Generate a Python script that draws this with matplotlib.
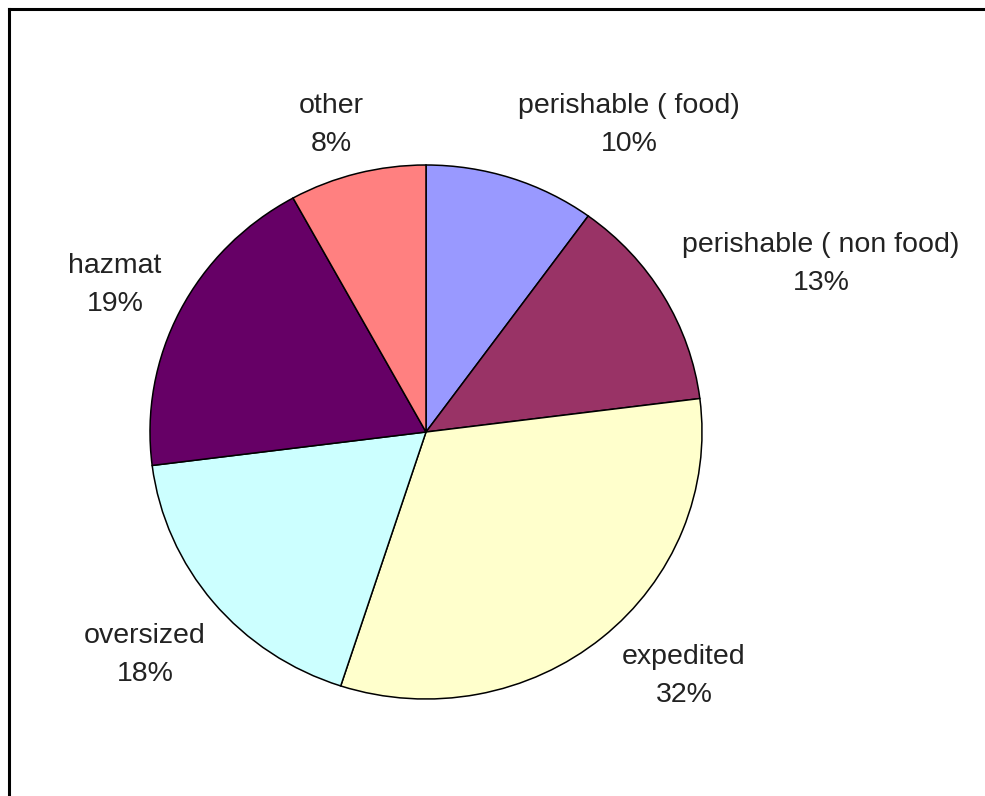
import matplotlib.pyplot as plt
from matplotlib.lines import Line2D

plt.rcParams["font.family"] = ["Liberation Sans", "DejaVu Sans"]

categories = ["perishable ( food)", "perishable ( non food)", "expedited",
              "oversized", "hazmat", "other"]
shares = [10, 13, 32, 18, 19, 8]
colors = ["#9999FF", "#993366", "#FFFFCC", "#CCFFFF", "#660066", "#FF8080"]

# label anchors in pixel space (centre of each two-line label)
label_pos = [(629, 125), (821, 264), (684, 676), (145, 655), (115, 285), (331, 125)]

W, H = 985, 796
cx, cy = 426, 432          # pie centre in pixels
rx, ry = 276, 267          # horizontal / vertical radius in pixels

fig = plt.figure(figsize=(W / 100, H / 100), dpi=100)
ax = fig.add_axes([0, 0, 1, 1])

ax.pie(shares, colors=colors, startangle=90, counterclock=False,
       wedgeprops=dict(edgecolor="black", linewidth=1.1))
ax.set_aspect("auto")
ax.set_xlim(-cx / rx, (W - cx) / rx)
ax.set_ylim((cy - H) / ry, cy / ry)
ax.axis("off")

for name, val, (px, py) in zip(categories, shares, label_pos):
    ax.text((px - cx) / rx, (cy - py) / ry, f"{name}\n{val}%",
            ha="center", va="center", fontsize=20.5, color="#222222",
            linespacing=1.6)

# frame lines along the top and left edge
fig.add_artist(Line2D([9 / W, 1], [1 - 9 / H, 1 - 9 / H], transform=fig.transFigure,
                      color="black", linewidth=2.2))
fig.add_artist(Line2D([9 / W, 9 / W], [0, 1 - 9 / H], transform=fig.transFigure,
                      color="black", linewidth=2.2))

fig.savefig("out.png", dpi=100)
